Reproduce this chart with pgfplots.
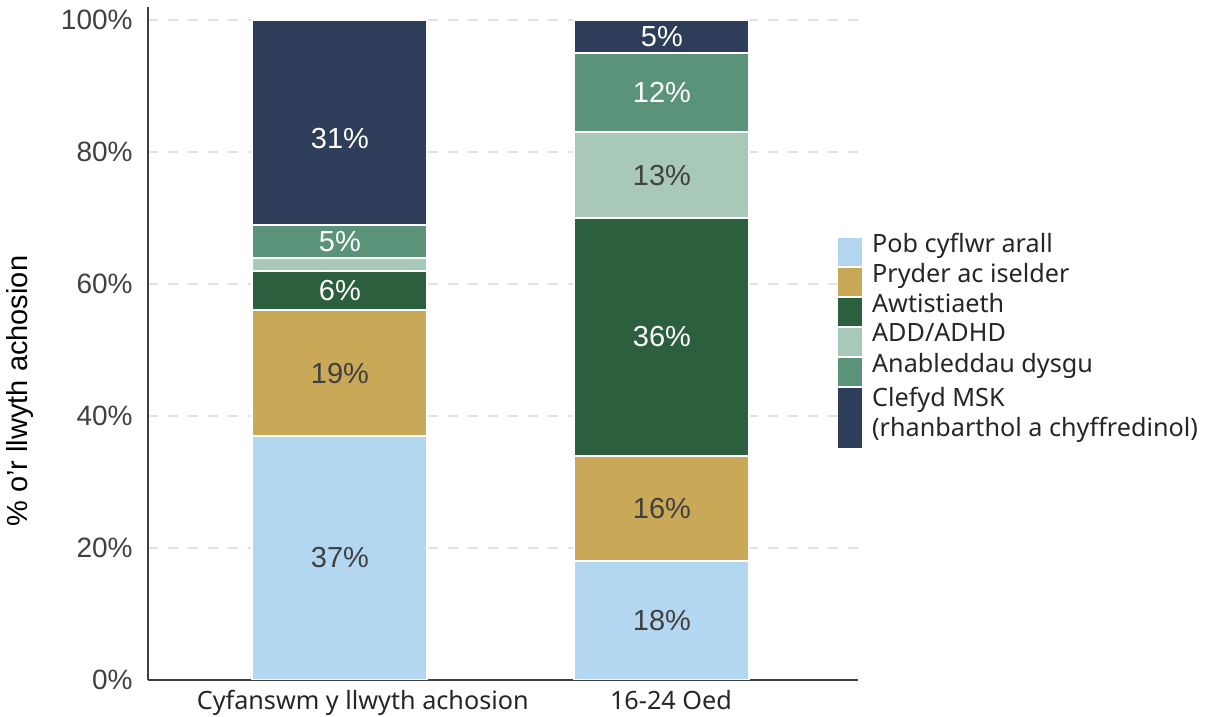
\documentclass[border=0pt]{standalone}
\usepackage{pgfplots}
\usepackage{pgfplotstable}
\pgfplotsset{compat=1.18}
\usepackage{fontspec}
\setmainfont{Liberation Sans}
\newfontfamily\aptos{Noto Sans}

\definecolor{cPob}{HTML}{B4D7F1}
\definecolor{cPry}{HTML}{C9A857}
\definecolor{cAwt}{HTML}{2C5F3D}
\definecolor{cADD}{HTML}{A8C8B9}
\definecolor{cAna}{HTML}{5B937A}
\definecolor{cMSK}{HTML}{2E3D59}
\definecolor{txt}{HTML}{404040}
\definecolor{dark}{HTML}{262626}
\definecolor{gridc}{HTML}{E2E2E2}

% shares per group (%)
\pgfplotstableread{
x Pob Pry Awt ADD Ana MSK
0 37 19 6 2 5 31
1 18 16 36 13 12 5
}\shares

% label positions (white text)
\pgfplotstableread{
x y lab
0 59 6
0 66.5 5
0 82.1 31
1 52 36
1 89 12
1 97.5 5
}\labwhite

% label positions (dark text)
\pgfplotstableread{
x y lab
0 18.5 37
0 46.5 19
1 9 18
1 26 16
1 76.5 13
}\labdark

\pgfplotsset{
  frame/.style={
    scale only axis, width=355pt, height=336.6pt,
    xmin=-0.596, xmax=1.609, ymin=0, ymax=102,
  },
  boxleg/.style={legend image code/.code={%
      \fill[##1,draw=none,overlay] (0pt,-11.25pt) rectangle (12pt,2.75pt);
      \path[draw=none,fill=none] (0pt,-7.5pt) rectangle (12pt,7.5pt);}},
  tallleg/.style={legend image code/.code={%
      \fill[##1,draw=none,overlay] (0pt,-17.75pt) rectangle (12pt,12.25pt);
      \path[draw=none,fill=none] (0pt,-15pt) rectangle (12pt,17pt);}},
}

\begin{document}
\begin{tikzpicture}
\useasboundingbox (-74pt,-18.5pt) rectangle (531pt,340pt);

\begin{axis}[
  frame,
  ybar stacked, bar width=87.5pt,
  axis x line*=bottom, axis y line*=left,
  axis line style={draw=txt, line width=1pt},
  ymajorgrids,
  grid style={gridc, line width=1pt, dash pattern=on 5pt off 5pt},
  major tick length=0pt,
  ytick={0,20,40,60,80,100},
  yticklabels={0\%,20\%,40\%,60\%,80\%,100\%},
  yticklabel style={font=\fontsize{14}{16}\selectfont, text=txt, inner sep=0pt, xshift=-7.5pt},
  xtick={0.071,1.028},
  xticklabels={Cyfanswm y llwyth achosion,16-24 Oed},
  xticklabel style={font=\aptos\fontsize{12.6}{15}\selectfont, text=dark, inner sep=0pt, anchor=north, yshift=-5pt},
  ylabel={\% o\char39 r llwyth achosion},
  ylabel style={at={(axis description cs:-0.180,0.429)}, anchor=center, font=\fontsize{14.5}{16}\selectfont, text=black},
  legend style={at={(axis description cs:0.972,0.670)}, anchor=north west,
    draw=none, fill=none, inner sep=0pt, outer sep=0pt, row sep=0pt,
    font=\aptos\fontsize{12.6}{15}\selectfont, text=dark,
    nodes={inner xsep=5pt, inner ysep=0pt}, cells={align=left}},
  legend cell align=left,
]
\addplot[fill=cPob, draw=white, line width=1pt, boxleg] table[x=x, y=Pob]{\shares};
\addlegendentry{Pob cyflwr arall}
\addplot[fill=cPry, draw=white, line width=1pt, boxleg] table[x=x, y=Pry]{\shares};
\addlegendentry{Pryder ac iselder}
\addplot[fill=cAwt, draw=white, line width=1pt, boxleg] table[x=x, y=Awt]{\shares};
\addlegendentry{Awtistiaeth}
\addplot[fill=cADD, draw=white, line width=1pt, boxleg] table[x=x, y=ADD]{\shares};
\addlegendentry{ADD/ADHD}
\addplot[fill=cAna, draw=white, line width=1pt, boxleg] table[x=x, y=Ana]{\shares};
\addlegendentry{Anableddau dysgu}
\addplot[fill=cMSK, draw=white, line width=1pt, tallleg] table[x=x, y=MSK]{\shares};
\addlegendentry{Clefyd MSK\\(rhanbarthol a chyffredinol)}
\end{axis}

\begin{axis}[
  frame, hide axis,
  nodes near coords={\pgfplotspointmeta\%},
  point meta=explicit symbolic,
  every node near coord/.append style={anchor=center, inner sep=0pt, font=\fontsize{14.5}{16}\selectfont},
]
\addplot[only marks, mark=none, nodes near coords style={text=white}]
  table[x=x, y=y, meta=lab]{\labwhite};
\addplot[only marks, mark=none, nodes near coords style={text=txt}]
  table[x=x, y=y, meta=lab]{\labdark};
\end{axis}
\end{tikzpicture}
\end{document}
